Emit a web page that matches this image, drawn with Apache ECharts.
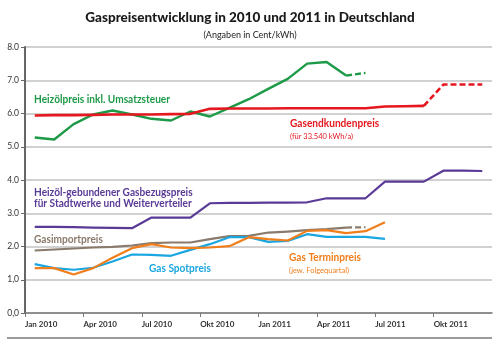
<!DOCTYPE html>
<html>
<head>
<meta charset="utf-8">
<script src="https://cdn.jsdelivr.net/npm/echarts@6/dist/echarts.min.js"></script>
<style>
  html, body { margin: 0; padding: 0; background: #fff; }
  #chart { width: 500px; height: 349px; }
</style>
</head>
<body>
<div id="chart"></div>
<script>
// Months Jan 2010 .. Dec 2011; each monthly value sits in the middle of its month.
const months = ['2010-01','2010-02','2010-03','2010-04','2010-05','2010-06','2010-07','2010-08','2010-09','2010-10','2010-11','2010-12',
                '2011-01','2011-02','2011-03','2011-04','2011-05','2011-06','2011-07','2011-08','2011-09','2011-10','2011-11','2011-12'];

// Quarter tick labels on the time axis (month index of each quarter start)
const quarterTicks = [0, 3, 6, 9, 12, 15, 18, 21];
const quarterLabels = ['Jan 2010','Apr 2010','Jul 2010','Okt 2010','Jan 2011','Apr 2011','Jul 2011','Okt 2011'];

// Value axis labels (Cent/kWh)
const yTicks = [0, 1, 2, 3, 4, 5, 6, 7, 8];
const yLabels = ['0,0','1,0','2.0','3.0','4.0','5.0','6.0','7.0','8.0'];

// Prices in Cent/kWh, one value per month starting Jan 2010
const heizoel      = [5.28, 5.22, 5.68, 5.97, 6.09, 5.97, 5.84, 5.79, 6.06, 5.91, 6.17, 6.43, 6.74, 7.04, 7.50, 7.55, 7.14, 7.22];
const heizoelDashFrom = 16;
const endkunden    = [5.94, 5.95, 5.95, 5.96, 5.97, 5.97, 5.97, 5.98, 5.99, 6.14, 6.15, 6.15, 6.15, 6.16, 6.16, 6.16, 6.16, 6.16, 6.21, 6.22, 6.23, 6.87, 6.87, 6.87];
const endkundenDashFrom = 20;
const oelGebunden  = [2.59, 2.59, 2.58, 2.57, 2.56, 2.55, 2.87, 2.87, 2.87, 3.30, 3.31, 3.31, 3.32, 3.32, 3.33, 3.45, 3.45, 3.45, 3.95, 3.95, 3.95, 4.28, 4.28, 4.27];
const importPreis  = [1.88, 1.91, 1.94, 1.97, 1.99, 2.03, 2.10, 2.12, 2.12, 2.22, 2.31, 2.32, 2.42, 2.45, 2.49, 2.52, 2.57, 2.58];
const importDashFrom = 16;
const spotPreis    = [1.47, 1.35, 1.30, 1.36, 1.55, 1.76, 1.75, 1.72, 1.90, 2.07, 2.28, 2.28, 2.14, 2.17, 2.37, 2.29, 2.29, 2.29, 2.23];
const terminPreis  = [1.35, 1.35, 1.16, 1.35, 1.66, 1.95, 2.07, 1.97, 1.95, 1.97, 2.01, 2.28, 2.22, 2.18, 2.47, 2.49, 2.40, 2.46, 2.73];

const C = {
  green: '#1d9a48',
  red: '#e5171f',
  purple: '#5a3a97',
  brown: '#8a7a6b',
  blue: '#1aa6e0',
  orange: '#f07e1b'
};

function pts(values, from, to) {
  const out = [];
  for (let i = from; i <= to && i < values.length; i++) out.push([i + 0.5, values[i]]);
  return out;
}

function lineSeries(name, data, color, width, dashed) {
  return {
    name: name,
    type: 'line',
    data: data,
    symbol: 'none',
    silent: true,
    lineStyle: { color: color, width: width, type: dashed ? [6, 3] : 'solid', cap: 'butt', join: 'round' },
    z: 3
  };
}

const chart = echarts.init(document.getElementById('chart'), null, { renderer: 'canvas' });

const FONT = 'Lato';

// Series captions: slightly condensed bold text
const labelText = (text, x, y, color, size, weight, sx) => ({
  type: 'text',
  x: x,
  y: y,
  scaleX: sx || 1,
  silent: true,
  style: { text: text, fill: color, font: (weight || 'bold') + ' ' + size + 'px ' + FONT, textVerticalAlign: 'middle' }
});

chart.setOption({
  animation: false,
  backgroundColor: '#fff',
  title: {
    text: 'Gaspreisentwicklung in 2010 und 2011 in Deutschland',
    subtext: '(Angaben in Cent/kWh)',
    left: 'center',
    top: 6,
    itemGap: 6,
    textStyle: { fontFamily: FONT, fontSize: 13.5, fontWeight: 900, color: '#1a1a1a' },
    subtextStyle: { fontFamily: FONT, fontSize: 9, color: '#222' }
  },
  grid: { left: 25, right: 8, top: 47, bottom: 36 },
  xAxis: {
    type: 'value',
    min: 0,
    max: 24,
    interval: 3,
    splitLine: { show: false },
    axisLine: { show: true, onZero: false, lineStyle: { color: '#7a7a7a', width: 1.5 } },
    axisTick: { show: true, length: 4, customValues: quarterTicks, lineStyle: { color: '#7a7a7a', width: 1 } },
    axisLabel: {
      customValues: quarterTicks,
      formatter: v => quarterLabels[quarterTicks.indexOf(v)] || '',
      align: 'left',
      margin: 7,
      fontFamily: FONT,
      fontSize: 8,
      fontWeight: 'bold',
      color: '#333'
    }
  },
  yAxis: {
    type: 'value',
    min: 0,
    max: 8,
    interval: 1,
    splitLine: { show: true, lineStyle: { color: '#c2c2c2', width: 1.5 } },
    axisLine: { show: true, lineStyle: { color: '#666', width: 2 } },
    axisTick: { show: true, length: 4, lineStyle: { color: '#666', width: 1 } },
    axisLabel: {
      formatter: v => yLabels[yTicks.indexOf(v)] || '',
      margin: 6,
      fontFamily: FONT,
      fontSize: 8.5,
      color: '#333'
    }
  },
  graphic: [
    { type: 'line', silent: true, shape: { x1: 7, y1: 338, x2: 492, y2: 338 }, style: { stroke: '#7a7a7a', lineWidth: 1.5 } },
    labelText('Heizölpreis inkl. Umsatzsteuer', 34, 99.5, C.green, 11, 'bold', 0.92),
    labelText('Gasendkundenpreis', 290, 123.5, C.red, 11, 'bold', 0.92),
    labelText('(für 33.540 kWh/a)', 290, 136.5, C.red, 7.5, 'normal'),
    labelText('Heizöl-gebundener Gasbezugspreis', 34, 192.5, C.purple, 11, 'bold', 0.92),
    labelText('für Stadtwerke und Weiterverteiler', 34, 203.5, C.purple, 11, 'bold', 0.92),
    labelText('Gasimportpreis', 34, 239, C.brown, 11, 'bold', 0.92),
    labelText('Gas Spotpreis', 149, 268.5, C.blue, 11, 'bold', 0.92),
    labelText('Gas Terminpreis', 289, 257.5, C.orange, 11, 'bold', 0.92),
    labelText('(jew. Folgequartal)', 289, 270.5, C.orange, 7.5, 'normal')
  ],
  series: [
    lineSeries('Heizölpreis', pts(heizoel, 0, heizoelDashFrom), C.green, 2.4, false),
    lineSeries('Heizölpreis (Prognose)', pts(heizoel, heizoelDashFrom, heizoel.length - 1), C.green, 2.4, true),
    lineSeries('Gasendkundenpreis', pts(endkunden, 0, endkundenDashFrom), C.red, 2.6, false),
    lineSeries('Gasendkundenpreis (Prognose)', pts(endkunden, endkundenDashFrom, endkunden.length - 1), C.red, 2.6, true),
    lineSeries('Heizöl-gebundener Gasbezugspreis', pts(oelGebunden, 0, oelGebunden.length - 1), C.purple, 2.2, false),
    lineSeries('Gasimportpreis', pts(importPreis, 0, importDashFrom), C.brown, 2.2, false),
    lineSeries('Gasimportpreis (Prognose)', pts(importPreis, importDashFrom, importPreis.length - 1), C.brown, 2.2, true),
    lineSeries('Gas Spotpreis', pts(spotPreis, 0, spotPreis.length - 1), C.blue, 2.2, false),
    lineSeries('Gas Terminpreis', pts(terminPreis, 0, terminPreis.length - 1), C.orange, 2.2, false)
  ]
});
</script>
</body>
</html>
